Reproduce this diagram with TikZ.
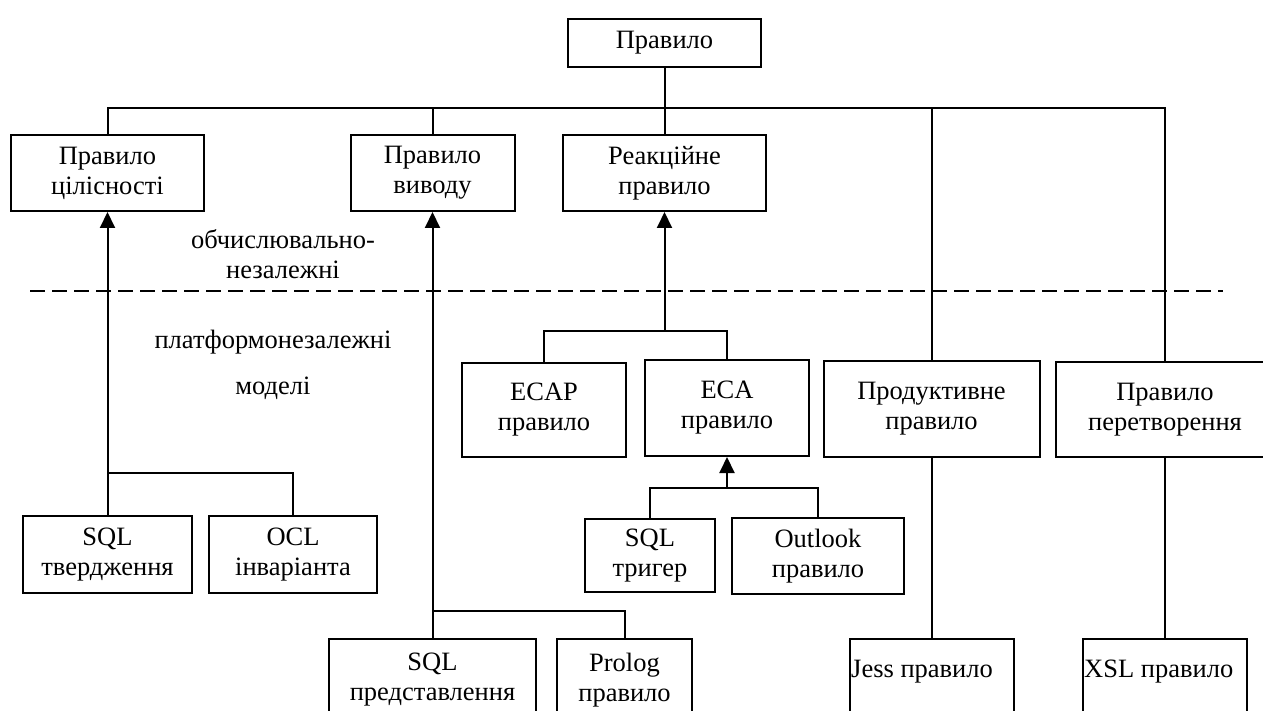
\documentclass[tikz,border=0pt]{standalone}
\usepackage{fontspec}
\setmainfont{Liberation Serif}
\usetikzlibrary{arrows.meta}
\tikzset{
  every node/.style={font=\fontsize{26.5}{30}\selectfont, inner sep=0pt},
  blk/.style={draw, line width=2pt, align=center},
  wire/.style={line width=2pt},
  arr/.style={line width=2pt, -{Triangle[length=16pt,width=15pt]}},
  divider/.style={line width=2pt, dash pattern=on 15pt off 7pt},
}
\begin{document}
\begin{tikzpicture}[x=1pt, y=-1pt]
\useasboundingbox (0,0) rectangle (1263,711);
\clip (0,0) rectangle (1263,711);

% boxes
\node[blk, minimum width=193pt, minimum height=48pt] (root) at (664.5,43) {Правило};
\node[blk, minimum width=193pt, minimum height=76pt] (integ) at (107.5,173) {Правило\\цілісності};
\node[blk, minimum width=164pt, minimum height=76pt] (deriv) at (432.5,173) {Правило\\виводу};
\node[blk, minimum width=203pt, minimum height=76pt] (react) at (664.5,173) {Реакційне\\правило};

\node[blk, minimum width=164pt, minimum height=94pt] (ecap) at (544,410) {ECAP\\правило};
\node[blk, minimum width=164pt, minimum height=96pt] (eca) at (727,408) {ECA\\правило};
\node[blk, minimum width=216pt, minimum height=96pt] (prod) at (931.5,409) {Продуктивне\\правило};
\node[blk, minimum width=218pt, minimum height=95pt] (transf) at (1165,409.5) {Правило\\перетворення};

\node[blk, minimum width=169pt, minimum height=77pt] (sqlassert) at (107.5,554.5) {SQL\\твердження};
\node[blk, minimum width=168pt, minimum height=77pt] (ocl) at (293,554.5) {OCL\\інваріанта};
\node[blk, minimum width=130pt, minimum height=73pt] (sqltrig) at (650,555.5) {SQL\\тригер};
\node[blk, minimum width=172pt, minimum height=76pt] (outlook) at (818,556) {Outlook\\правило};

\node[blk, minimum width=207pt, minimum height=82pt] (sqlview) at (432.5,680) {SQL\\представлення};
\node[blk, minimum width=135pt, minimum height=82pt] (prolog) at (624.5,680) {Prolog\\правило};
\node[blk, minimum width=164pt, minimum height=82pt] (jess) at (931.5,680) {};
\node[blk, minimum width=164pt, minimum height=82pt] (xsl) at (1165,680) {};
\node[anchor=west] (jesstext) at (851,672) {Jess правило};
\node[anchor=west] (xsltext) at (1084,672) {XSL правило};

% free labels
\node (calc) at (283,254) [align=center] {обчислювально-\\незалежні};
\node (plat) at (273,342) {платформонезалежні};
\node (models) at (273,388) {моделі};

% junction points
\coordinate (busL) at (107.5,108);
\coordinate (busR) at (1165,108);
\coordinate (j1) at (107.5,473);
\coordinate (j2) at (432.5,611);
\coordinate (j3) at (664.5,331);
\coordinate (j4) at (727,488);
\coordinate (dashL) at (30,291);
\coordinate (dashR) at (1223,291);

% divider between the model levels
\draw[divider] (dashL) -- (dashR);

% top-level tree
\draw[wire] (root.south) -- (react.north);
\draw[wire] (integ.north) -- (busL) -- (busR) -- (transf.north);
\draw[wire] (deriv.north) -- (deriv.north |- busL);
\draw[wire] (prod.north) -- (prod.north |- busL);

% realisations
\draw[arr] (j1) -- (integ.south);
\draw[wire] (sqlassert.north) -- (j1) -| (ocl.north);

\draw[arr] (j2) -- (deriv.south);
\draw[wire] (sqlview.north) -- (j2) -| (prolog.north);

\draw[arr] (j3) -- (react.south);
\draw[wire] (ecap.north) |- (j3) -| (eca.north);

\draw[arr] (j4) -- (eca.south);
\draw[wire] (sqltrig.north) |- (j4) -| (outlook.north);

\draw[wire] (prod.south) -- (jess.north);
\draw[wire] (transf.south) -- (xsl.north);
\end{tikzpicture}
\end{document}
